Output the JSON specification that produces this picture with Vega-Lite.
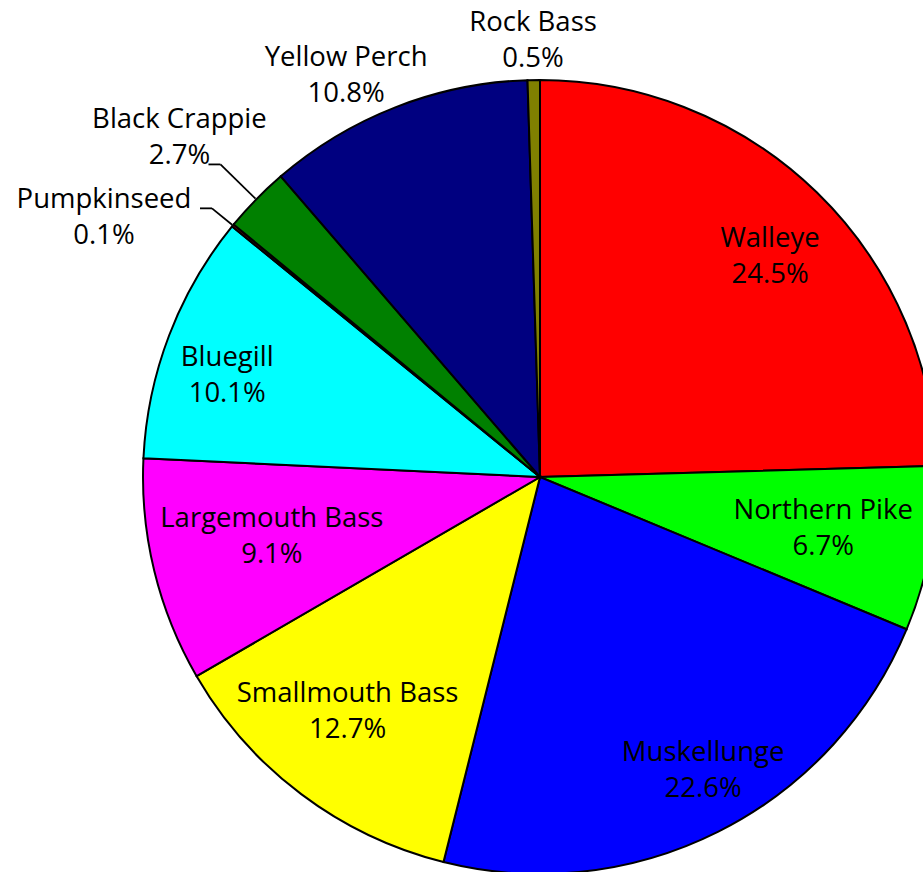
{
  "$schema": "https://vega.github.io/schema/vega-lite/v6.json",
  "width": 1080,
  "height": 954,
  "padding": 0,
  "autosize": {"type": "none"},
  "background": "white",
  "config": {"view": {"stroke": null}, "text": {"font": "Open Sans", "fontSize": 27.5, "fontWeight": 500, "lineHeight": 36, "color": "black", "lineBreak": "\n", "baseline": "middle", "align": "center"}},
  "data": {"values": [
    {"fish": "Walleye", "share": 0.245, "order": 1},
    {"fish": "Northern Pike", "share": 0.067, "order": 2},
    {"fish": "Muskellunge", "share": 0.226, "order": 3},
    {"fish": "Smallmouth Bass", "share": 0.127, "order": 4},
    {"fish": "Largemouth Bass", "share": 0.091, "order": 5},
    {"fish": "Bluegill", "share": 0.101, "order": 6},
    {"fish": "Pumpkinseed", "share": 0.001, "order": 7},
    {"fish": "Black Crappie", "share": 0.027, "order": 8},
    {"fish": "Yellow Perch", "share": 0.108, "order": 9},
    {"fish": "Rock Bass", "share": 0.005, "order": 10}
  ]},
  "transform": [{"calculate": "datum.fish + '\\n' + format(datum.share, '.1%')", "as": "label"}],
  "encoding": {
    "theta": {"field": "share", "type": "quantitative", "stack": true, "scale": {"nice": false}},
    "order": {"field": "order", "type": "quantitative"}
  },
  "layer": [
    {
      "mark": {"type": "arc", "radius": 397, "stroke": "black", "strokeWidth": 2},
      "encoding": {
        "color": {"field": "fish", "type": "nominal", "sort": null, "legend": null,
          "scale": {"domain": ["Walleye", "Northern Pike", "Muskellunge", "Smallmouth Bass", "Largemouth Bass", "Bluegill", "Pumpkinseed", "Black Crappie", "Yellow Perch", "Rock Bass"],
                    "range": ["#ff0000", "#00ff00", "#0000ff", "#ffff00", "#ff00ff", "#00ffff", "#800000", "#008000", "#000080", "#808000"]}}
      }
    },
    {
      "mark": {"type": "text", "radius": 320, "dx": 7, "dy": -9},
      "encoding": {"text": {"condition": {"test": "datum.fish !== 'Walleye'", "value": ""}, "field": "label"}}
    },
    {
      "mark": {"type": "text", "radius": 288, "dy": -18},
      "encoding": {"text": {"condition": {"test": "datum.fish !== 'Northern Pike'", "value": ""}, "field": "label"}}
    },
    {
      "mark": {"type": "text", "radius": 332, "dx": 14, "dy": -21},
      "encoding": {"text": {"condition": {"test": "datum.fish !== 'Muskellunge'", "value": ""}, "field": "label"}}
    },
    {
      "mark": {"type": "text", "radius": 300, "dx": -12, "dy": -23},
      "encoding": {"text": {"condition": {"test": "datum.fish !== 'Smallmouth Bass'", "value": ""}, "field": "label"}}
    },
    {
      "mark": {"type": "text", "radius": 276, "dy": -23},
      "encoding": {"text": {"condition": {"test": "datum.fish !== 'Largemouth Bass'", "value": ""}, "field": "label"}}
    },
    {
      "mark": {"type": "text", "radius": 322, "dx": -12, "dy": -4},
      "encoding": {"text": {"condition": {"test": "datum.fish !== 'Bluegill'", "value": ""}, "field": "label"}}
    },
    {
      "mark": {"type": "text", "radius": 440, "dy": -14},
      "encoding": {"text": {"condition": {"test": "datum.fish !== 'Rock Bass'", "value": ""}, "field": "label"}}
    },
    {
      "mark": {"type": "text", "radius": 446, "dx": -32, "dy": -3},
      "encoding": {"text": {"condition": {"test": "datum.fish !== 'Yellow Perch'", "value": ""}, "field": "label"}}
    },
    {
      "mark": {"type": "text", "radius": 496, "dx": -6, "dy": -10},
      "encoding": {"text": {"condition": {"test": "datum.fish !== 'Black Crappie'", "value": ""}, "field": "label"}}
    },
    {
      "mark": {"type": "text", "radius": 424, "dx": -108, "dy": -8},
      "encoding": {"text": {"condition": {"test": "datum.fish !== 'Pumpkinseed'", "value": ""}, "field": "label"}}
    },
    {
      "transform": [
        {"joinaggregate": [{"op": "sum", "field": "share", "as": "total"}]},
        {"window": [{"op": "sum", "field": "share", "as": "cum"}], "sort": [{"field": "order"}], "frame": [null, 0]},
        {"calculate": "2*PI*(datum.cum - datum.share/2)/datum.total", "as": "ang"},
        {"filter": "datum.fish == 'Black Crappie' || datum.fish == 'Pumpkinseed'"},
        {"calculate": "datum.fish == 'Black Crappie' ? 447 : 424", "as": "ro"},
        {"calculate": "398*sin(datum.ang)", "as": "xa"},
        {"calculate": "398*cos(datum.ang)", "as": "ya"},
        {"calculate": "datum.ro*sin(datum.ang)", "as": "xb"},
        {"calculate": "datum.ro*cos(datum.ang)", "as": "yb"},
        {"calculate": "datum.xb - 12", "as": "xc"}
      ],
      "layer": [
        {
          "mark": {"type": "rule", "color": "black", "strokeWidth": 1.8},
          "encoding": {
            "theta": null, "order": null,
            "x": {"field": "xa", "type": "quantitative", "scale": {"domain": [-540, 540], "nice": false, "zero": false}, "axis": null},
            "y": {"field": "ya", "type": "quantitative", "scale": {"domain": [-477, 477], "nice": false, "zero": false}, "axis": null},
            "x2": {"field": "xb"},
            "y2": {"field": "yb"}
          }
        },
        {
          "mark": {"type": "rule", "color": "black", "strokeWidth": 1.8},
          "encoding": {
            "theta": null, "order": null,
            "x": {"field": "xb", "type": "quantitative", "axis": null},
            "y": {"field": "yb", "type": "quantitative", "axis": null},
            "x2": {"field": "xc"},
            "y2": {"field": "yb"}
          }
        }
      ]
    }
  ]
}
